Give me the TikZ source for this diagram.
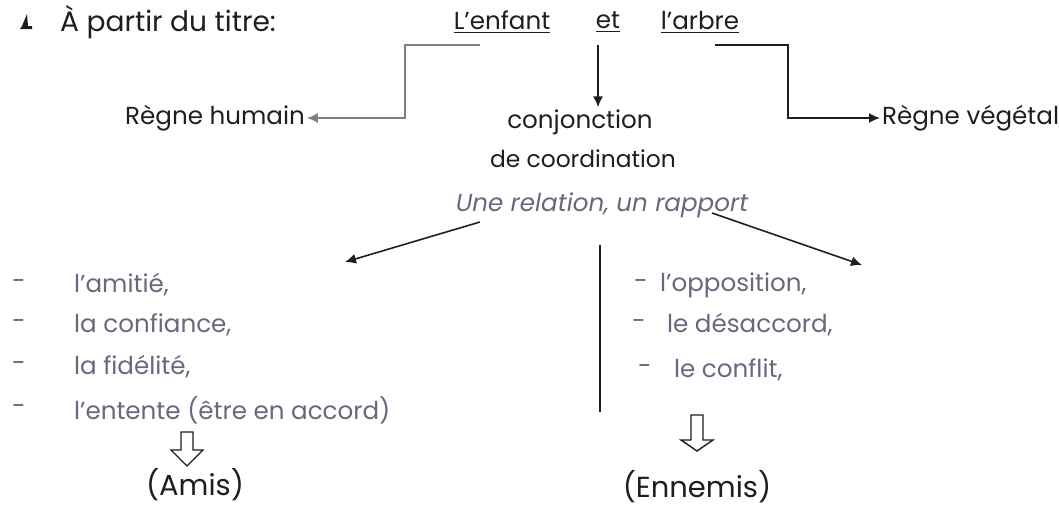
\documentclass[tikz,border=0pt]{standalone}
\usepackage{fontspec}
\setmainfont{Poppins}
\usetikzlibrary{arrows.meta}

\definecolor{liste}{RGB}{110,100,125}
\definecolor{encre}{RGB}{30,30,30}

\tikzset{
	texte/.style={font=\fontsize{14}{16}\selectfont, text=encre, inner sep=1pt},
	item/.style={font=\fontsize{14}{16}\selectfont, text=liste, inner sep=1pt, anchor=west},
	fleche/.style={-{Latex[length=2.2mm,width=2mm]}, line width=0.9pt, draw=encre},
	creuse/.style={draw=encre, line width=0.8pt, fill=white}
}

\begin{document}
\begin{tikzpicture}[x=0.02cm, y=-0.02cm]
	\useasboundingbox (0,0) rectangle (1059,507);
	% titre
	\fill[encre] (22,26) -- (27,14) -- (28,26) -- (32,26) -- (32,29) -- (20,29) -- cycle;
	\node[texte, anchor=west, font=\fontsize{16}{18}\selectfont] (titre) at (58,22) {À partir du titre:};
	\node[texte] (enfant) at (502,22) {\underline{L'enfant}};
	\node[texte] (et) at (608,22) {\underline{et}};
	\node[texte] (arbre) at (700,22) {\underline{l'arbre}};
	% les trois branches
	\node[texte] (humain) at (215,118) {Règne humain};
	\node[texte] (conj) at (580,122) {conjonction};
	\node[texte, font=\fontsize{13.3}{15}\selectfont] (coord) at (583,159) {de coordination};
	\node[texte, anchor=west] (vegetal) at (880,118) {Règne végétal};
	\node[texte, text=liste, font=\fontsize{14}{16}\itshape] (rel) at (602,205) {Une relation, un rapport};
	\coordinate (g1) at (480,45);
	\coordinate (g2) at (405,45);
	\coordinate (c1) at (598,45);
	\coordinate (d1) at (715,45);
	\coordinate (d2) at (788,45);
	\draw[fleche, draw=gray] (g1) -- (g2) |- (humain.east);
	\draw[fleche] (c1) -- (c1 |- conj.north);
	\draw[fleche] (d1) -- (d2) |- (vegetal.west);
	% relation
	\coordinate (ga) at (345,262);
	\coordinate (da) at (862,265);
	\draw[fleche] (480,222) -- (ga);
	\draw[fleche] (712,213) -- (da);
	\draw[encre, line width=1.2pt] (600,245) -- (600,412);
	% liste de gauche
	\foreach \y/\mot [count=\i] in {285/{l'amitié,}, 325/{la confiance,}, 367/{la fidélité,}, 410/{l'entente (être en accord)}}{
		\node[item] (g\i) at (72,\y) {\mot};
		\node[item] (tg\i) at (10,\y) {-};
	}
	% liste de droite
	\foreach \y/\xt/\xm/\mot [count=\i] in {285/658/632/{l'opposition,}, 325/665/630/{le désaccord,}, 370/672/636/{le conflit,}}{
		\node[item] (d\i t) at (\xt,\y) {\mot};
		\node[item] (td\i) at (\xm,\y) {-};
	}
	% conclusions
	\node[texte, font=\fontsize{16.5}{18}\selectfont] (amis) at (195,485) {(Amis)};
	\node[texte, font=\fontsize{16.5}{18}\selectfont] (ennemis) at (697,487) {(Ennemis)};
	\draw[creuse] (181,432) -- (193,432) -- (193,450) -- (203,450) -- (187,466) -- (171,450) -- (181,450) -- cycle;
	\draw[creuse] (691,415) -- (703,415) -- (703,440) -- (713,440) -- (697,451) -- (681,440) -- (691,440) -- cycle;
\end{tikzpicture}
\end{document}
